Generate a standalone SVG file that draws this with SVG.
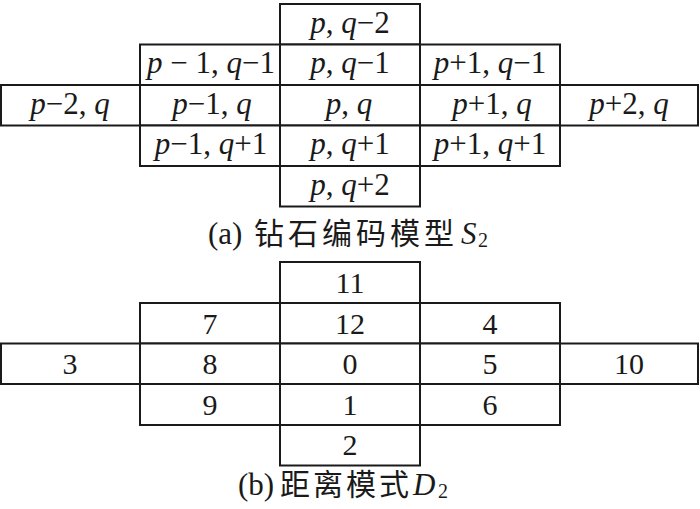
<svg xmlns="http://www.w3.org/2000/svg" width="700" height="509" viewBox="0 0 700 509">
<style>
.c{fill:#fff;stroke:#1a1a1a;stroke-width:2}
.t{font-family:"Liberation Serif","Times New Roman",serif;font-size:31px;fill:#1a1a1a;text-anchor:middle}
.n{font-family:"Liberation Serif","Times New Roman",serif;font-size:30px;fill:#1a1a1a;text-anchor:middle}
.i{font-style:italic}
.cap{font-family:"Liberation Serif","Noto Sans CJK SC",serif;font-size:31px;fill:#1a1a1a}
.cjk{font-family:"Noto Sans CJK SC","Liberation Serif",sans-serif;font-size:30px;letter-spacing:4px}
</style>
<g id="a">
<g id="a-p-qm2"><rect class="c" x="280" y="4" width="140" height="40.5"/><text class="t" x="350" y="33"><tspan class="i">p</tspan>, <tspan class="i">q</tspan>−2</text></g>
<g id="a-pm1-qm1"><rect class="c" x="140" y="44.5" width="140" height="40.5"/><text class="t" x="211" y="73"><tspan class="i">p</tspan> − 1, <tspan class="i">q</tspan>−1</text></g>
<g id="a-p-qm1"><rect class="c" x="280" y="44.5" width="140" height="40.5"/><text class="t" x="350" y="73"><tspan class="i">p</tspan>, <tspan class="i">q</tspan>−1</text></g>
<g id="a-pp1-qm1"><rect class="c" x="420" y="44.5" width="140" height="40.5"/><text class="t" x="490" y="73"><tspan class="i">p</tspan>+1, <tspan class="i">q</tspan>−1</text></g>
<g id="a-pm2-q"><rect class="c" x="1" y="85" width="139" height="40.5"/><text class="t" x="70" y="114"><tspan class="i">p</tspan>−2, <tspan class="i">q</tspan></text></g>
<g id="a-pm1-q"><rect class="c" x="140" y="85" width="140" height="40.5"/><text class="t" x="212" y="114"><tspan class="i">p</tspan>−1, <tspan class="i">q</tspan></text></g>
<g id="a-p-q"><rect class="c" x="280" y="85" width="140" height="40.5"/><text class="t" x="349" y="114"><tspan class="i">p</tspan>, <tspan class="i">q</tspan></text></g>
<g id="a-pp1-q"><rect class="c" x="420" y="85" width="140" height="40.5"/><text class="t" x="492" y="114"><tspan class="i">p</tspan>+1, <tspan class="i">q</tspan></text></g>
<g id="a-pp2-q"><rect class="c" x="560" y="85" width="138" height="40.5"/><text class="t" x="629" y="114"><tspan class="i">p</tspan>+2, <tspan class="i">q</tspan></text></g>
<g id="a-pm1-qp1"><rect class="c" x="140" y="125.5" width="140" height="40.5"/><text class="t" x="211" y="154"><tspan class="i">p</tspan>−1, <tspan class="i">q</tspan>+1</text></g>
<g id="a-p-qp1"><rect class="c" x="280" y="125.5" width="140" height="40.5"/><text class="t" x="350" y="154"><tspan class="i">p</tspan>, <tspan class="i">q</tspan>+1</text></g>
<g id="a-pp1-qp1"><rect class="c" x="420" y="125.5" width="140" height="40.5"/><text class="t" x="490" y="154"><tspan class="i">p</tspan>+1, <tspan class="i">q</tspan>+1</text></g>
<g id="a-p-qp2"><rect class="c" x="280" y="166" width="140" height="40.5"/><text class="t" x="350" y="195"><tspan class="i">p</tspan>, <tspan class="i">q</tspan>+2</text></g>
</g>
<g id="caption-a"><text class="cap" y="244"><tspan x="208">(a)</tspan><tspan class="cjk" x="254">钻石编码模型</tspan><tspan class="i" x="461">S</tspan><tspan x="478" dy="3" font-size="20">2</tspan></text></g>
<g id="b">
<g id="b-11"><rect class="c" x="280" y="262" width="140" height="41"/><text class="n" x="350" y="293">11</text></g>
<g id="b-7"><rect class="c" x="140" y="303" width="140" height="40.5"/><text class="n" x="210" y="334">7</text></g>
<g id="b-12"><rect class="c" x="280" y="303" width="140" height="40.5"/><text class="n" x="350" y="334">12</text></g>
<g id="b-4"><rect class="c" x="420" y="303" width="140" height="40.5"/><text class="n" x="490" y="334">4</text></g>
<g id="b-3"><rect class="c" x="1" y="343.5" width="139" height="40.5"/><text class="n" x="70" y="374">3</text></g>
<g id="b-8"><rect class="c" x="140" y="343.5" width="140" height="40.5"/><text class="n" x="210" y="374">8</text></g>
<g id="b-0"><rect class="c" x="280" y="343.5" width="140" height="40.5"/><text class="n" x="350" y="374">0</text></g>
<g id="b-5"><rect class="c" x="420" y="343.5" width="140" height="40.5"/><text class="n" x="490" y="374">5</text></g>
<g id="b-10"><rect class="c" x="560" y="343.5" width="138" height="40.5"/><text class="n" x="629" y="374">10</text></g>
<g id="b-9"><rect class="c" x="140" y="384" width="140" height="41"/><text class="n" x="210" y="415">9</text></g>
<g id="b-1"><rect class="c" x="280" y="384" width="140" height="41"/><text class="n" x="350" y="415">1</text></g>
<g id="b-6"><rect class="c" x="420" y="384" width="140" height="41"/><text class="n" x="490" y="415">6</text></g>
<g id="b-2"><rect class="c" x="280" y="425" width="140" height="40.5"/><text class="n" x="350" y="455">2</text></g>
</g>
<g id="caption-b"><text class="cap" y="495"><tspan x="238">(b)</tspan><tspan class="cjk" x="280" style="letter-spacing:3px">距离模式</tspan><tspan class="i" x="413">D</tspan><tspan x="438" dy="3" font-size="20">2</tspan></text></g>
</svg>
